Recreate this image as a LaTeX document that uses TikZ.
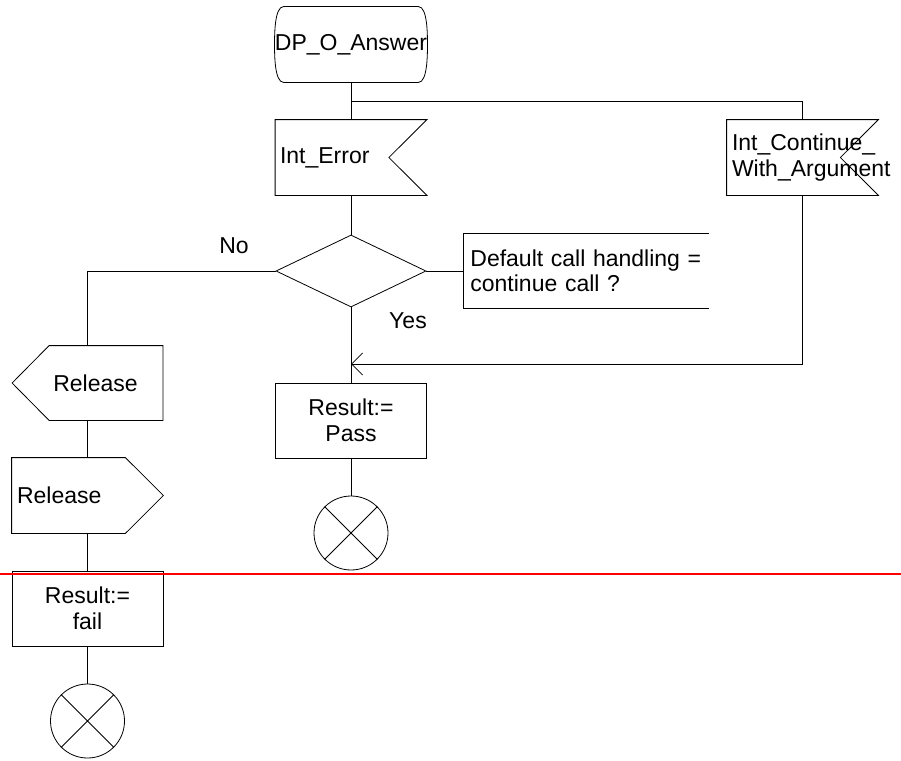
\documentclass[tikz,border=0pt]{standalone}
\usepackage{fontspec}
\setmainfont{Liberation Sans}
\usetikzlibrary{shapes.geometric,arrows.meta}

\tikzset{
  every node/.style={font=\fontsize{23}{25.5}\selectfont, inner sep=0pt},
  sym/.style={minimum width=151pt, minimum height=75pt},
  taskbox/.style={sym, draw, align=center},
  stopsym/.style={circle, draw, minimum size=74pt},
}

\begin{document}
\begin{tikzpicture}[x=1pt,y=-1pt,line width=0.8pt]
\useasboundingbox (0,0) rectangle (901,760);

% Start and the two inputs
\node[sym] (start) at (351,44.5) {DP\_O\_Answer};
\draw ([xshift=-9pt]start.north east) to[out=0,in=90,looseness=0.6] (start.east)
  to[out=-90,in=0,looseness=0.6] ([xshift=-9pt]start.south east)
  -- ([xshift=9pt]start.south west) to[out=180,in=-90,looseness=0.6] (start.west)
  to[out=90,in=180,looseness=0.6] ([xshift=9pt]start.north west) -- cycle;

\node[sym, text width=142pt, align=left] (interr) at (351,157.5) {Int\_Error};
\draw (interr.north west) -- (interr.north east) -- ([xshift=-38pt]interr.east)
  -- (interr.south east) -- (interr.south west) -- cycle;

\node[sym, text width=141pt, align=left] (intcont) at (802.5,157.5) {Int\_Continue\_\\\mbox{With\_Argument}};
\draw (intcont.north west) -- (intcont.north east) -- ([xshift=-38pt]intcont.east)
  -- (intcont.south east) -- (intcont.south west) -- cycle;

% Decision
\node[diamond, draw, minimum width=150pt, minimum height=72pt] (dec) at (351,271) {};
\node[minimum width=245pt, minimum height=74pt, text width=231pt, inner xsep=7pt, align=left, anchor=west] (note) at (463,271) {Default call handling =\\continue call ?};
\draw (note.north east) -- (note.north west) -- (note.south west) -- (note.south east);
\node (no) at (234,246) {No};
\node (yes) at (408,321) {Yes};

% Yes branch
\node[taskbox] (pass) at (351,420.5) {Result:=\\Pass};
\node[stopsym] (stop1) at (351,533) {};
\draw (stop1.north west) -- (stop1.south east) (stop1.north east) -- (stop1.south west);

% No branch
\node[sym, minimum width=150pt, minimum height=74pt] (rel1) at (87.5,383) {\hspace*{16pt}Release};
\draw ([xshift=37pt]rel1.north west) -- (rel1.north east) -- (rel1.south east)
  -- ([xshift=37pt]rel1.south west) -- (rel1.west) -- cycle;

\node[sym, text width=141pt, align=left] (rel2) at (87.5,495.5) {Release};
\draw (rel2.north west) -- ([xshift=-38pt]rel2.north east) -- (rel2.east)
  -- ([xshift=-38pt]rel2.south east) -- (rel2.south west) -- cycle;

\node[taskbox] (fail) at (87.5,608.5) {Result:=\\fail};
\node[stopsym] (stop2) at (87.5,721) {};
\draw (stop2.north west) -- (stop2.south east) (stop2.north east) -- (stop2.south west);

% Connectors
\coordinate (fork) at (351,101);
\coordinate (join) at (351,364);
\draw (start.south) -- (interr.north);
\draw (fork) -| (intcont.north);
\draw (interr.south) -- (dec.north);
\draw (dec.east) -- (note.west);
\draw (dec.west) -| (rel1.north);
\draw (dec.south) -- (pass.north);
\draw[-{Straight Barb[length=11pt,width=22pt]}] (intcont.south) |- (join);
\draw (pass.south) -- (stop1.north);
\draw (rel1.south) -- (rel2.north);
\draw (rel2.south) -- (fail.north);
\draw (fail.south) -- (stop2.north);

\draw[red, line width=2pt] (0,574) -- (901,574);
\end{tikzpicture}
\end{document}
